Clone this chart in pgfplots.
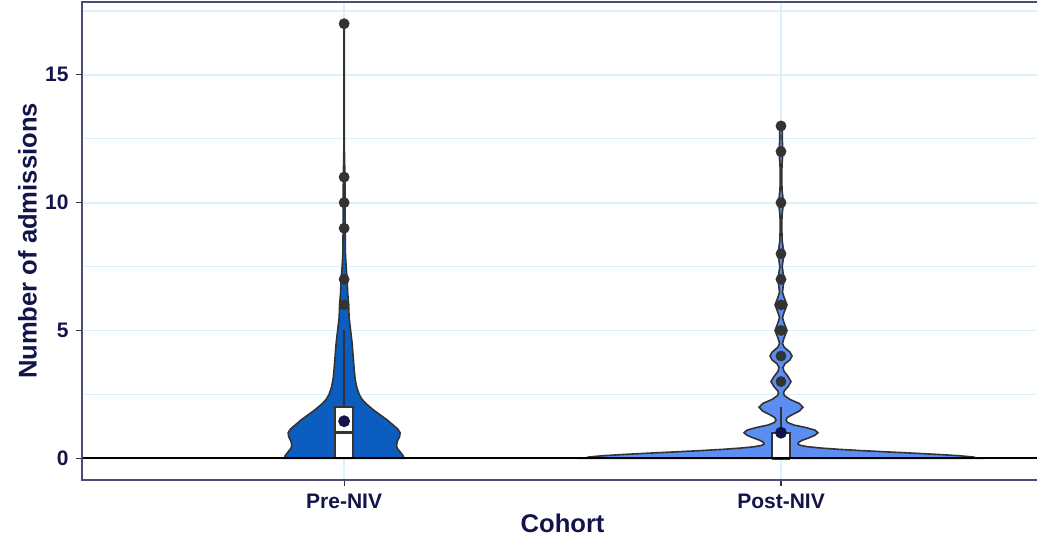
\documentclass[border=0pt]{standalone}
\usepackage{fontspec}
\setmainfont{Liberation Sans}
\usepackage{pgfplots}
\usepackage{pgfplotstable}
\pgfplotsset{compat=1.18}

\definecolor{navy}{HTML}{12144A}
\definecolor{gridc}{HTML}{DCF2FA}
\definecolor{framec}{HTML}{4B4B7A}
\definecolor{prefill}{HTML}{0B5EC0}
\definecolor{postfill}{HTML}{5B8DF2}
\definecolor{edge}{HTML}{333333}

% violin half-widths (w, in px of the reference) against number of admissions
\pgfplotstableread{
y w
0 60
0.1 59
0.25 56
0.4 53
0.5 52.5
0.65 53
0.85 55.5
1.0 56
1.15 53.5
1.3 49
1.5 43
1.7 36
1.9 29
2.1 23
2.3 18
2.5 15
2.8 12.5
3.1 11
3.5 10
4.0 9
4.5 8
5.0 6.5
5.5 5
6.0 4.5
6.5 3.5
7.0 3
7.5 2
8.0 1.3
9.0 1
10.0 0.9
11.0 0.8
12.0 0.3
14.0 0.2
17.0 0.1
}\pre

\pgfplotstableread{
y w
0 197
0.05 192
0.1 178
0.15 157
0.2 132
0.25 106
0.3 80
0.35 58
0.4 40
0.45 27
0.5 20
0.55 17
0.62 17.5
0.7 21
0.8 28
0.9 34
1.0 37
1.1 34
1.2 25
1.3 13
1.4 6.5
1.5 5
1.6 6.5
1.7 11
1.85 18.5
2.0 22
2.15 18
2.3 9
2.45 3.5
2.55 2.5
2.65 3.5
2.8 7
3.0 10
3.2 7
3.4 3
3.55 2
3.7 4
3.85 9
4.0 11
4.15 9
4.35 3
4.5 1.5
4.7 3
5.0 6
5.3 3
5.5 1.5
5.7 3
6.0 6
6.3 3
6.5 1.5
7.0 3
7.5 1.2
8.0 3
8.5 1.2
9.0 0.8
9.5 1
10.0 2.5
10.5 1
11.0 0.8
11.5 1
12.0 2
12.5 1.2
13.0 1.5
}\post

% closed outlines: up the right side (s=1), back down the left side (s=-1)
\pgfplotstablesort[sort key=y, sort cmp=float >]{\preDown}{\pre}
\pgfplotstablecreatecol[create col/set={-1}]{s}{\preDown}
\pgfplotstablecreatecol[create col/set={1}]{s}{\pre}
\pgfplotstablevertcat{\pre}{\preDown}
\pgfplotstablesort[sort key=y, sort cmp=float >]{\postDown}{\post}
\pgfplotstablecreatecol[create col/set={-1}]{s}{\postDown}
\pgfplotstablecreatecol[create col/set={1}]{s}{\post}
\pgfplotstablevertcat{\post}{\postDown}

\def\pxu{0.002288}

\begin{document}
\begin{tikzpicture}
\begin{axis}[
  at={(0,0)}, anchor=south west,
  scale only axis, width=477.5pt, height=239pt,
  clip=false,
  xmin=0.4, xmax=2.586, ymin=-0.85, ymax=17.85,
  axis line style={draw=none},
  xtick={1,2}, xticklabels={Pre-NIV,Post-NIV},
  ytick={0,5,10,15}, minor ytick={2.5,7.5,12.5,17.5},
  xmajorgrids, ymajorgrids, yminorgrids,
  major grid style={gridc, line width=0.9pt},
  minor grid style={gridc, line width=0.6pt},
  tick align=outside, tick pos=left,
  major tick length=3pt, minor tick length=0pt,
  tick style={edge, line width=0.6pt},
  /pgf/number format/assume math mode=true,
  ticklabel style={font=\bfseries\fontsize{10.5}{12}\selectfont, text=navy},
  xticklabel style={anchor=north, inner sep=0pt, yshift=-4pt},
  yticklabel style={anchor=east, inner sep=0pt, xshift=-3.5pt},
  xlabel={Cohort}, ylabel={Number of admissions},
  every axis x label/.style={at={(axis description cs:0.5032,-0.0711)}, anchor=north, inner sep=0pt,
    font=\bfseries\fontsize{12.8}{14}\selectfont, text=navy},
  every axis y label/.style={at={(axis description cs:-0.0571,0.5)}, rotate=90, anchor=center, inner sep=0pt,
    font=\bfseries\fontsize{12.8}{14}\selectfont, text=navy},
]
% violins
\addplot[draw=edge, fill=prefill, line width=0.8pt] table[x expr={1+\thisrow{s}*\thisrow{w}*\pxu}, y=y] {\pre} -- cycle;
\addplot[draw=edge, fill=postfill, line width=0.8pt] table[x expr={2+\thisrow{s}*\thisrow{w}*\pxu}, y=y] {\post} -- cycle;

% outliers
\addplot[only marks, mark=*, mark size=2.5pt, color=edge] coordinates {
  (1,6) (1,7) (1,9) (1,10) (1,11) (1,17)
  (2,3) (2,4) (2,5) (2,6) (2,7) (2,8) (2,10) (2,12) (2,13)};

% whiskers
\addplot[edge, line width=0.8pt] coordinates {(1,2) (1,5)};
\addplot[edge, line width=0.8pt] coordinates {(2,1) (2,2)};

% boxes
\addplot[draw=edge, fill=white, line width=0.9pt] coordinates {(0.9794,0) (1.0206,0) (1.0206,2) (0.9794,2)} -- cycle;
\addplot[draw=edge, fill=white, line width=0.9pt] coordinates {(1.9794,0) (2.0206,0) (2.0206,1) (1.9794,1)} -- cycle;
% medians
\addplot[edge, line width=1.5pt] coordinates {(0.9794,1) (1.0206,1)};
\addplot[edge, line width=1.5pt] coordinates {(1.9794,0) (2.0206,0)};

% means
\addplot[only marks, mark=*, mark size=2.75pt, color=navy] coordinates {(1,1.45) (2,1.0)};

% reference line at zero
\addplot[black, line width=0.8pt] coordinates {(0.4,0) (2.586,0)};

% panel frame (right side falls outside the picture)
\draw[framec, line width=0.7pt] (rel axis cs:1,1) -- (rel axis cs:0,1) -- (rel axis cs:0,0) -- (rel axis cs:1,0);
\end{axis}
\pgfresetboundingbox
\path (-41pt,-32pt) rectangle (477.5pt,240pt);
\end{tikzpicture}
\end{document}
